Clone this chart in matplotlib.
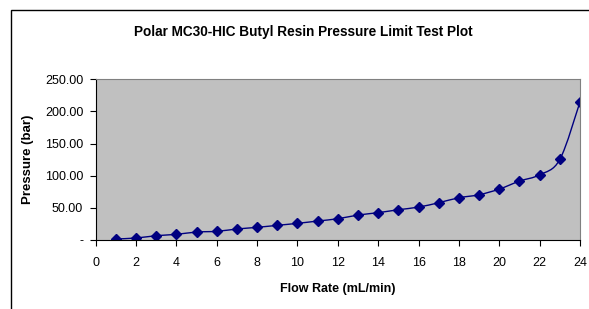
import numpy as np
import matplotlib
matplotlib.use("Agg")
import matplotlib.pyplot as plt
from matplotlib.path import Path
from matplotlib.patches import PathPatch, Rectangle

plt.rcParams["font.family"] = ["Liberation Sans", "DejaVu Sans"]

flow = [1, 2, 3, 4, 5, 6, 7, 8, 9, 10, 11, 12, 13, 14, 15, 16, 17, 18, 19, 20, 21, 22, 23, 24]
pressure = [1.6, 3.1, 6.7, 8.8, 12.4, 13.5, 17.1, 19.7, 22.8, 25.9, 29.5, 33.1, 38.8, 42.5,
            47.1, 51.2, 58.0, 65.7, 70.4, 79.2, 91.6, 101.4, 125.3, 214.8]
yticks = [0, 50, 100, 150, 200, 250]
ylabels = ["-", "50.00", "100.00", "150.00", "200.00", "250.00"]
xticks = list(range(0, 25, 2))

NAVY = "#000080"


def smooth_path(x, y):
    # Catmull-Rom style smoothing (like Excel's "smoothed line") as cubic Beziers
    p = np.column_stack([x, y]).astype(float)
    verts = [p[0]]
    codes = [Path.MOVETO]
    n = len(p)
    for i in range(n - 1):
        p0 = p[i - 1] if i > 0 else p[i]
        p1, p2 = p[i], p[i + 1]
        p3 = p[i + 2] if i + 2 < n else p[i + 1]
        c1 = p1 + (p2 - p0) / 6.0
        c2 = p2 - (p3 - p1) / 6.0
        verts += [c1, c2, p2]
        codes += [Path.CURVE4] * 3
    return Path(verts, codes)


fig = plt.figure(figsize=(5.89, 3.09), dpi=100)
# outer chart border (clipped on right and bottom like the source)
fig.patches.append(Rectangle((11 / 589, -0.1), 1.2, 1 - 10 / 309 + 0.1,
                             transform=fig.transFigure, fill=False,
                             edgecolor="black", linewidth=1.0))

ax = fig.add_axes([95.7 / 589, 1 - 240 / 309, (580 - 95.7) / 589, (240 - 79.3) / 309])
ax.set_facecolor("#C0C0C0")
ax.add_patch(PathPatch(smooth_path(flow, pressure), fill=False, edgecolor=NAVY, lw=1.0))
ax.plot(flow, pressure, linestyle="none", marker="D", markersize=5, color=NAVY)

ax.set_xlim(0, 24)
ax.set_ylim(0, 250)
ax.set_xticks(xticks)
ax.set_yticks(yticks)
ax.set_yticklabels(ylabels)
ax.tick_params(direction="out", length=4, width=0.8, labelsize=9, colors="black")
ax.tick_params(axis="y", pad=5)
ax.tick_params(axis="x", pad=8)
for s in ["top", "right"]:
    ax.spines[s].set_color("#808080")
    ax.spines[s].set_linewidth(0.8)
for s in ["left", "bottom"]:
    ax.spines[s].set_color("black")
    ax.spines[s].set_linewidth(0.8)

ax.set_xlabel("Flow Rate (mL/min)", fontsize=9, fontweight="bold", labelpad=10)
ax.set_ylabel("Pressure (bar)", fontsize=9.5, fontweight="bold", labelpad=8)
fig.text(0.515, 1 - 32 / 309, "Polar MC30-HIC Butyl Resin Pressure Limit Test Plot",
         ha="center", va="center", fontsize=9.8, fontweight="bold")

fig.savefig("out.png", dpi=100)
